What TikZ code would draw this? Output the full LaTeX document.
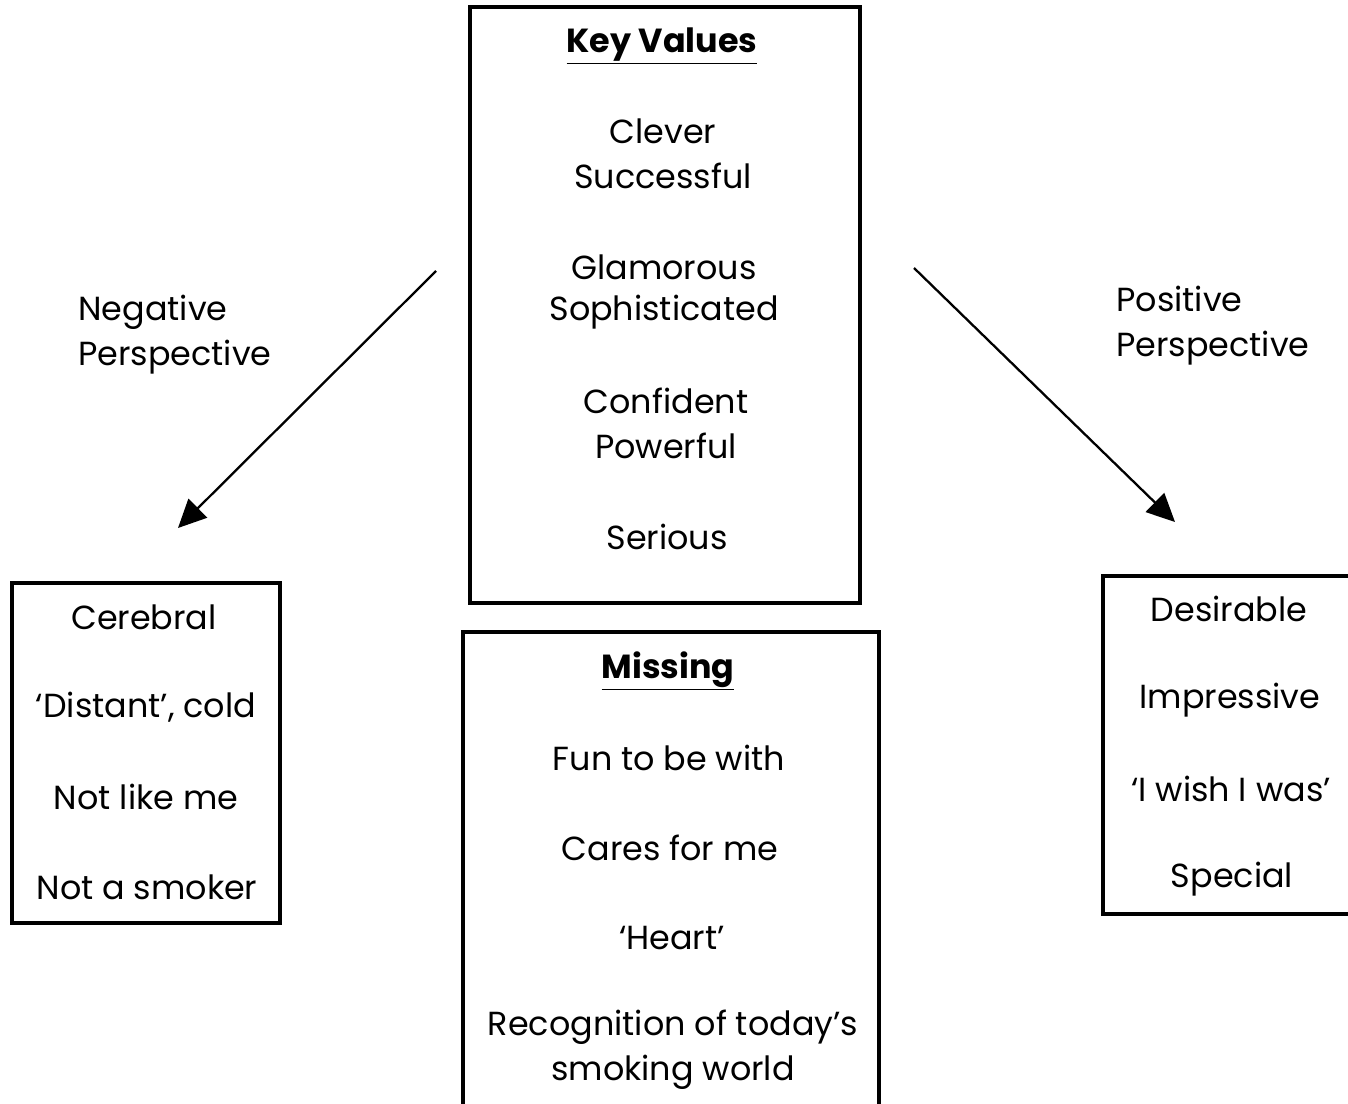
\documentclass[tikz,border=0pt]{standalone}
\usepackage{fontspec}
\setmainfont{Poppins}
\usepackage{tikz}
\usetikzlibrary{positioning, arrows.meta}

\tikzset{
	valbox/.style={draw, line width=1.8pt},
	item/.style={font=\fontsize{19}{23}\selectfont, inner sep=0pt},
	head/.style={item, font=\fontsize{19}{23}\selectfont\bfseries},
	persp/.style={item, align=left, anchor=west, font=\fontsize{19}{25.6}\selectfont},
	pointer/.style={line width=1.3pt, -{Triangle[length=16pt, width=15pt]}}
}

\begin{document}
\begin{tikzpicture}[x=0.02cm, y=-0.02cm]
	\useasboundingbox (0,0) rectangle (1348,1104);
	
	% boxes
	\draw[valbox] (470,7) rectangle (860,603);
	\draw[valbox] (463,632) rectangle (879,1110);
	\draw[valbox] (12,583) rectangle (280,923);
	\draw[valbox] (1103,576) rectangle (1360,914);
	
	% key values
	\node[head] (key) at (662,46) {\underline{Key Values}};
	\node[item] (clever) at (663,131) {Clever};
	\node[item, below=0.9cm of clever.center, anchor=center] (succ) {Successful};
	\node[item] (glam) at (664,267) {Glamorous};
	\node[item, below=0.9cm of glam.center, anchor=center] (soph) {Sophisticated};
	\node[item] (conf) at (666,401) {Confident};
	\node[item, below=0.9cm of conf.center, anchor=center] (power) {Powerful};
	\node[item] (serious) at (667,537) {Serious};
	
	% missing
	\node[head] (miss) at (668,671) {\underline{Missing}};
	\node[item] (fun) at (669,758) {Fun to be with};
	\node[item] (cares) at (670,848) {Cares for me};
	\node[item] (heart) at (672,938) {`Heart'};
	\node[item] (recog) at (673,1027) {Recognition of today's};
	\node[item, below=0.9cm of recog.center, anchor=center] (smoking) {smoking world};
	
	% negative side
	\node[item] (cereb) at (144,617) {Cerebral};
	\node[item] (distant) at (146,707) {`Distant', cold};
	\node[item] (notlike) at (146,797) {Not like me};
	\node[item] (notsmoker) at (147,887) {Not a smoker};
	
	% positive side
	\node[item] (desir) at (1229,609) {Desirable};
	\node[item] (impress) at (1230,700) {Impressive};
	\node[item] (wish) at (1231,789) {`I wish I was'};
	\node[item] (special) at (1232,879) {Special};
	
	\node[persp] (neg) at (78,335) {Negative\\Perspective};
	\node[persp] (pos) at (1116,326) {Positive\\Perspective};
	
	\coordinate (negfrom) at (436,271);
	\coordinate (negto) at (178,528);
	\coordinate (posfrom) at (914,268);
	\coordinate (posto) at (1175,522);
	\draw[pointer] (negfrom) -- (negto);
	\draw[pointer] (posfrom) -- (posto);
\end{tikzpicture}
\end{document}
